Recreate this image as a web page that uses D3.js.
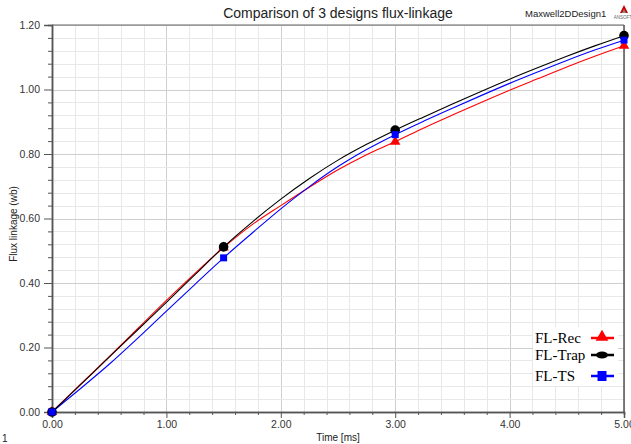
<!DOCTYPE html>
<html><head><meta charset="utf-8">
<script src="https://cdn.jsdelivr.net/npm/d3@7"></script>
<style>body{margin:0;background:#fff}svg{display:block}</style>
</head><body>
<svg id="c" width="631" height="444"></svg>
<script>
const times    = [0, 0.25, 0.5, 0.75, 1.0, 1.25, 1.5, 1.75, 2.0, 2.25, 2.5, 2.75, 3.0, 3.25, 3.5, 3.75, 4.0, 4.25, 4.5, 4.75, 5.0];
const fluxRec  = [0, 0.086, 0.172, 0.259, 0.346, 0.430, 0.510, 0.581, 0.640, 0.697, 0.751, 0.798, 0.838, 0.881, 0.921, 0.960, 0.998, 1.034, 1.070, 1.104, 1.136];
const fluxTrap = [0, 0.085, 0.170, 0.255, 0.340, 0.426, 0.512, 0.589, 0.660, 0.724, 0.781, 0.830, 0.874, 0.915, 0.955, 0.994, 1.032, 1.068, 1.103, 1.136, 1.167];
const fluxTS   = [0, 0.073, 0.148, 0.229, 0.313, 0.396, 0.478, 0.555, 0.630, 0.699, 0.761, 0.814, 0.860, 0.902, 0.942, 0.981, 1.019, 1.055, 1.090, 1.123, 1.153];
const markerTimes = [0, 1.5, 3.0, 5.0];
const xTicks = [0, 1, 2, 3, 4, 5];
const yTicks = [0, 0.2, 0.4, 0.6, 0.8, 1.0, 1.2];
const seriesNames = ["FL-Rec", "FL-Trap", "FL-TS"];
const seriesColors = ["#ff0000", "#000000", "#0000ff"];
const seriesData = [fluxRec, fluxTrap, fluxTS];

const svg = d3.select("#c");
const L = 52, R = 624, T = 25, B = 412;
const x = d3.scaleLinear().domain([0, 5]).range([L, R]);
const y = d3.scaleLinear().domain([0, 1.2]).range([B, T]);
const sans = "'Liberation Sans', Arial, sans-serif";

// grid
const xMinor = d3.range(0, 5.0001, 0.2).map(v => +v.toFixed(2));
const yMinor = d3.range(0, 1.2001, 0.04).map(v => +v.toFixed(2));
const g = svg.append("g").attr("shape-rendering", "crispEdges");
g.selectAll(".vx").data(xMinor).join("line")
  .attr("x1", d => Math.round(x(d)) + 0.5).attr("x2", d => Math.round(x(d)) + 0.5)
  .attr("y1", T).attr("y2", B)
  .attr("stroke", d => xTicks.includes(d) ? "#cfcfcf" : "#e8e8e8");
g.selectAll(".hy").data(yMinor).join("line")
  .attr("y1", d => Math.round(y(d)) + 0.5).attr("y2", d => Math.round(y(d)) + 0.5)
  .attr("x1", L).attr("x2", R)
  .attr("stroke", d => yTicks.some(t => Math.abs(t - d) < 1e-6) ? "#cfcfcf" : "#e8e8e8");

// axes
const fmt = d3.format(".2f");
svg.append("g").attr("transform", `translate(0,${B})`)
  .call(d3.axisBottom(x).tickValues(xTicks).tickFormat(fmt).tickSize(6).tickPadding(3));
svg.append("g").attr("transform", `translate(0,${B})`)
  .call(d3.axisBottom(x).tickValues(xMinor.filter(v => !xTicks.includes(v))).tickFormat("").tickSize(3));
svg.append("g").attr("transform", `translate(${L},0)`)
  .call(d3.axisLeft(y).tickValues(yTicks).tickFormat(fmt).tickSize(8).tickPadding(4));
svg.append("g").attr("transform", `translate(${L},0)`)
  .call(d3.axisLeft(y).tickValues(yMinor.filter(v => !yTicks.some(t => Math.abs(t - v) < 1e-6))).tickFormat("").tickSize(4));
svg.selectAll(".domain").attr("stroke", "#555").attr("stroke-width", 1.5);
svg.selectAll(".tick line").attr("stroke", "#555");
svg.selectAll(".tick text").attr("font-family", sans).attr("font-size", 10.5).attr("fill", "#333");

// frame top/right
svg.append("line").attr("x1", L).attr("x2", R).attr("y1", T).attr("y2", T).attr("stroke", "#666").attr("stroke-width", 1.2);
svg.append("line").attr("x1", R).attr("x2", R).attr("y1", T).attr("y2", B).attr("stroke", "#555").attr("stroke-width", 1.5);

// lines
const line = d3.line().x((d, i) => x(times[i])).y(d => y(d)).curve(d3.curveMonotoneX);
[0, 2, 1].forEach(k => {
  svg.append("path").datum(seriesData[k]).attr("d", line)
    .attr("fill", "none").attr("stroke", seriesColors[k]).attr("stroke-width", 1.1);
});

// markers
function marker(sel, k, cx, cy) {
  if (k === 0) {
    sel.append("path").attr("d", d3.symbol().type(d3.symbolTriangle).size(48)())
      .attr("transform", `translate(${cx},${cy})`).attr("fill", seriesColors[0]);
  } else if (k === 1) {
    sel.append("circle").attr("cx", cx).attr("cy", cy).attr("r", 4.8).attr("fill", seriesColors[1]);
  } else {
    sel.append("rect").attr("x", cx - 3.5).attr("y", cy - 3.5).attr("width", 7).attr("height", 7).attr("fill", seriesColors[2]);
  }
}
[0, 1, 2].forEach(k => {
  markerTimes.forEach(t => {
    const i = times.indexOf(t);
    marker(svg, k, x(t), y(seriesData[k][i]));
  });
});

// legend
const lg = svg.append("g");
lg.append("rect").attr("x", 533).attr("y", 327).attr("width", 85).attr("height", 59).attr("fill", "#fff");
const legY = [338, 355, 376];
seriesNames.forEach((n, k) => {
  lg.append("text").attr("x", 535).attr("y", legY[k] + 5).text(n)
    .attr("font-family", "'Liberation Serif', 'Times New Roman', serif").attr("font-size", 15).attr("fill", "#000");
  lg.append("line").attr("x1", 591).attr("x2", 614).attr("y1", legY[k]).attr("y2", legY[k])
    .attr("stroke", seriesColors[k]).attr("stroke-width", 2.5);
  if (k === 1) {
    lg.append("ellipse").attr("cx", 602).attr("cy", legY[k]).attr("rx", 6).attr("ry", 3.5).attr("fill", "#000");
  } else if (k === 0) {
    lg.append("path").attr("d", d3.symbol().type(d3.symbolTriangle).size(70)())
      .attr("transform", `translate(602,${legY[k] - 1})`).attr("fill", seriesColors[0]);
  } else {
    lg.append("rect").attr("x", 597.5).attr("y", legY[k] - 5).attr("width", 9).attr("height", 10).attr("fill", seriesColors[2]);
  }
});

// titles
svg.append("text").attr("x", 338).attr("y", 18).attr("text-anchor", "middle")
  .attr("font-family", sans).attr("font-size", 14).attr("fill", "#222").text("Comparison of 3 designs flux-linkage");
svg.append("text").attr("x", 525).attr("y", 17).attr("font-family", sans).attr("font-size", 9.5)
  .attr("fill", "#222").text("Maxwell2DDesign1");
svg.append("path").attr("d", "M620,13 L624,5 L628,13 Z").attr("fill", "#c00");
svg.append("path").attr("d", "M622,13 L624,9 L626,13 Z").attr("fill", "#888");
svg.append("text").attr("x", 623).attr("y", 19).attr("text-anchor", "middle").attr("font-family", sans)
  .attr("font-size", 4.5).attr("fill", "#666").text("ANSOFT");
svg.append("text").attr("transform", "translate(17,224) rotate(-90)").attr("text-anchor", "middle")
  .attr("font-family", sans).attr("font-size", 10).attr("fill", "#222").text("Flux linkage (wb)");
svg.append("text").attr("x", 338).attr("y", 441).attr("text-anchor", "middle")
  .attr("font-family", sans).attr("font-size", 10).attr("fill", "#222").text("Time [ms]");
svg.append("text").attr("x", 2).attr("y", 442).attr("font-family", sans)
  .attr("font-size", 10).attr("fill", "#222").text("1");
</script>
</body></html>
